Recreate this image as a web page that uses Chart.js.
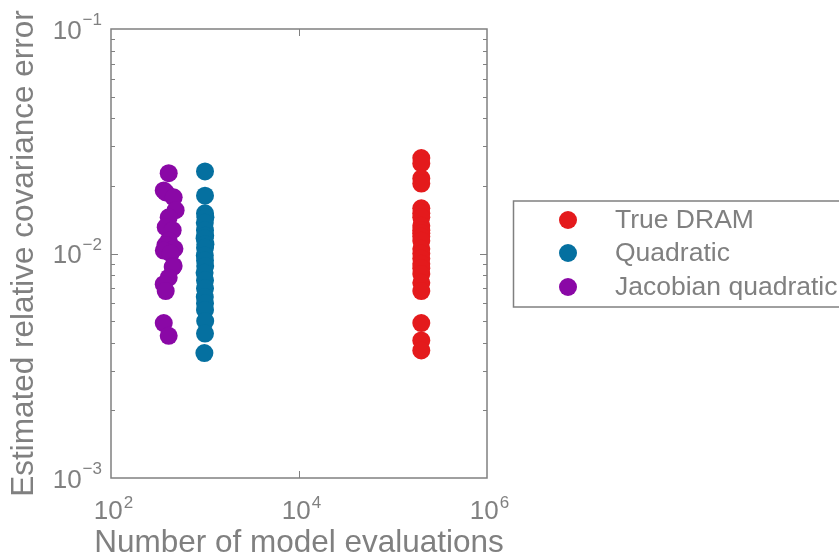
<!DOCTYPE html>
<html>
<head>
<meta charset="utf-8">
<script src="https://cdn.jsdelivr.net/npm/chart.js@4"></script>
<style>
  html, body { margin: 0; padding: 0; background: #fff; }
  #wrap { width: 839px; height: 557px; }
</style>
</head>
<body>
<div id="wrap"><canvas id="grafico"></canvas></div>
<script>
// valores
const seriesNames = ['True DRAM', 'Quadratic', 'Jacobian quadratic'];
const seriesColors = ['#e41a1c', '#0570a0', '#8a08a6'];

const dramEvals = [200000, 200000, 200000, 200000, 200000, 200000, 200000, 200000, 200000, 200000,
                   200000, 200000, 200000, 200000, 200000, 200000, 200000, 200000, 200000, 200000,
                   200000, 200000, 200000];
const dramError = [0.0266, 0.0252, 0.0216, 0.0205, 0.0159, 0.0151, 0.0145, 0.0133, 0.0127, 0.0123,
                   0.0119, 0.0114, 0.0105, 0.0100, 0.0095, 0.0090, 0.0086, 0.0081, 0.0074, 0.0068,
                   0.0049, 0.0041, 0.0037];

const quadEvals = [1000, 1000, 1000, 1010, 995, 1000, 1005, 990, 1010, 1000,
                   995, 1000, 1005, 990, 1000, 1000, 995, 1000, 1000, 1005, 1000, 985];
const quadError = [0.0232, 0.0181, 0.0151, 0.0145, 0.0137, 0.0127, 0.0120, 0.0117, 0.0110, 0.0106,
                   0.0098, 0.0093, 0.0088, 0.0082, 0.0076, 0.0070, 0.0064, 0.0060, 0.0056, 0.0050,
                   0.0044, 0.0036];

const jacEvals = [411, 364, 382, 464, 487, 411, 382, 453, 411, 380, 473, 365, 431, 464, 453, 411, 364, 382, 364, 411];
const jacError = [0.0228, 0.0191, 0.0187, 0.0178, 0.0156, 0.0145, 0.0131, 0.0127, 0.0114, 0.0109,
                  0.0105, 0.0103, 0.0100, 0.0088, 0.0087, 0.0078, 0.0073, 0.0068, 0.0049, 0.0043];

const xTicks = [100, 10000, 1000000];
const xTickExp = ['2', '4', '6'];
const yTicks = [0.1, 0.01, 0.001];
const yTickExp = ['\u22121', '\u22122', '\u22123'];

const xTitle = 'Number of model evaluations';
const yTitle = 'Estimated relative covariance error';

const GRAY = '#808080';
const FONT = '"Liberation Sans", Arial, sans-serif';

function pontos(xs, ys) {
    return xs.map(function(v, i) { return { x: v, y: ys[i] }; });
}

const datasets = [
    pontos(dramEvals, dramError),
    pontos(quadEvals, quadError),
    pontos(jacEvals, jacError)
].map(function(d, i) {
    return {
        label: seriesNames[i],
        data: d,
        backgroundColor: seriesColors[i],
        borderWidth: 0,
        pointRadius: 9,
        pointHoverRadius: 9
    };
});

// moldura, ticks, rótulos e legenda desenhados à mão (estilo MATLAB)
const eixosPlugin = {
    id: 'eixos',
    afterDraw: function(chart) {
        const ctx = chart.ctx;
        const a = chart.chartArea;
        const sx = chart.scales.x;
        const sy = chart.scales.y;
        ctx.save();

        ctx.strokeStyle = GRAY;
        ctx.lineWidth = 1.5;
        ctx.strokeRect(a.left, a.top, a.right - a.left, a.bottom - a.top);

        // ticks do eixo y (menores e maiores, para dentro)
        ctx.lineWidth = 1;
        [0.001, 0.01].forEach(function(dec) {
            for (let m = 1; m <= 9; m++) {
                const v = dec * m;
                const py = Math.round(sy.getPixelForValue(v)) + 0.5;
                if (py <= a.top + 1 || py >= a.bottom - 1) continue;
                const len = m === 1 ? 7 : 4;
                ctx.beginPath();
                ctx.moveTo(a.left, py); ctx.lineTo(a.left + len, py);
                ctx.moveTo(a.right, py); ctx.lineTo(a.right - len, py);
                ctx.stroke();
            }
        });
        // ticks do eixo x
        const px4 = Math.round(sx.getPixelForValue(10000)) + 0.5;
        ctx.beginPath();
        ctx.moveTo(px4, a.bottom); ctx.lineTo(px4, a.bottom - 7);
        ctx.moveTo(px4, a.top); ctx.lineTo(px4, a.top + 7);
        ctx.stroke();

        ctx.fillStyle = GRAY;
        ctx.textBaseline = 'alphabetic';

        // rótulos x: 10^n
        xTicks.forEach(function(v, i) {
            const px = sx.getPixelForValue(v);
            ctx.font = '26px ' + FONT;
            const wb = ctx.measureText('10').width;
            ctx.font = '17px ' + FONT;
            const we = ctx.measureText(xTickExp[i]).width;
            const x0 = px - (wb + we) / 2 + 2;
            ctx.font = '26px ' + FONT;
            ctx.textAlign = 'left';
            ctx.fillText('10', x0, 519);
            ctx.font = '17px ' + FONT;
            ctx.fillText(xTickExp[i], x0 + wb + 1, 508);
        });

        // rótulos y: 10^-n
        yTicks.forEach(function(v, i) {
            const py = sy.getPixelForValue(v);
            ctx.font = '17px ' + FONT;
            const we = ctx.measureText(yTickExp[i]).width;
            ctx.textAlign = 'left';
            ctx.fillText(yTickExp[i], 102 - we, py - 4);
            ctx.font = '26px ' + FONT;
            ctx.textAlign = 'right';
            ctx.fillText('10', 102 - we - 1, py + 9.5);
        });

        // títulos dos eixos
        ctx.font = '31.5px ' + FONT;
        ctx.textAlign = 'center';
        ctx.fillText(xTitle, (a.left + a.right) / 2, 552);
        ctx.save();
        ctx.translate(33, (a.top + a.bottom) / 2);
        ctx.rotate(-Math.PI / 2);
        ctx.fillText(yTitle, 0, 0);
        ctx.restore();

        // legenda
        ctx.lineWidth = 1.5;
        ctx.strokeStyle = GRAY;
        ctx.strokeRect(513.5, 201, 360, 106);
        const ly = [220, 253, 287];
        chart.data.datasets.forEach(function(ds, i) {
            ctx.beginPath();
            ctx.arc(568, ly[i], 9, 0, Math.PI * 2);
            ctx.fillStyle = ds.backgroundColor;
            ctx.fill();
            ctx.fillStyle = GRAY;
            ctx.font = '26.5px ' + FONT;
            ctx.textAlign = 'left';
            ctx.textBaseline = 'middle';
            ctx.fillText(ds.label, 615, ly[i] + 1);
        });

        ctx.restore();
    }
};

const ctx = document.getElementById('grafico').getContext('2d');
const chartInstance = new Chart(ctx, {
    type: 'scatter',
    data: { datasets: datasets },
    options: {
        responsive: true,
        maintainAspectRatio: false,
        animation: false,
        events: [],
        layout: { padding: { left: 111, top: 29, right: 352, bottom: 79 } },
        plugins: {
            legend: { display: false },
            tooltip: { enabled: false }
        },
        scales: {
            x: { type: 'logarithmic', min: 100, max: 1000000, display: false },
            y: { type: 'logarithmic', min: 0.001, max: 0.1, display: false }
        }
    },
    plugins: [eixosPlugin]
});
</script>
</body>
</html>
